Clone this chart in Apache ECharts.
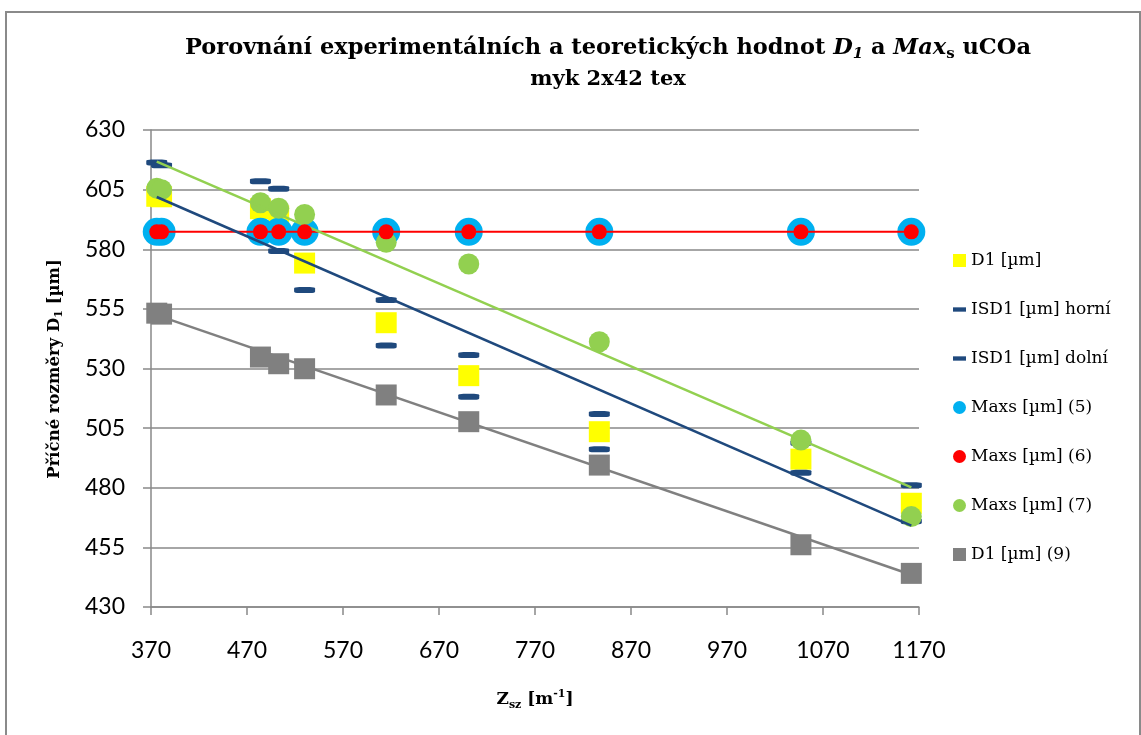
<!DOCTYPE html>
<html>
<head>
<meta charset="utf-8">
<script src="https://cdn.jsdelivr.net/npm/echarts@6/dist/echarts.min.js"></script>
<style>html,body{margin:0;padding:0;background:#fff;}#c{width:1141px;height:735px;}</style>
</head>
<body>
<div id="c"></div>
<script>
// ---- data ----
const xVals      = [376, 381, 484, 503, 530, 615, 701, 837, 1047, 1162];
const d1         = [602.2, 602.0, 597.0, 594.0, 574.2, 549.2, 527.0, 503.5, 492.0, 473.5];
const isdUpper   = [616.4, 615.2, 608.5, 605.4, 585.5, 558.7, 535.7, 510.9, 498.8, 481.0];
const isdLower   = [588.0, 588.5, 585.5, 579.3, 562.9, 539.6, 518.2, 496.1, 486.3, 466.0];
const maxs5      = [587.3, 587.3, 587.3, 587.3, 587.3, 587.3, 587.3, 587.3, 587.3, 587.3];
const maxs6      = [587.3, 587.3, 587.3, 587.3, 587.3, 587.3, 587.3, 587.3, 587.3, 587.3];
const maxs7      = [605.6, 605.0, 599.5, 597.2, 594.6, 582.9, 573.8, 541.2, 500.0, 467.9];
const d1Theo     = [553.2, 552.8, 534.8, 532.0, 529.9, 518.9, 507.7, 489.5, 456.1, 444.1];
// trendline end points
const trendX        = [376, 1162];
const trendMaxs7    = [616.7, 480.2];
const trendD1       = [601.9, 464.1];
const trendD1Theo   = [552.4, 443.5];
// axis ticks
const xTicks = [370, 470, 570, 670, 770, 870, 970, 1070, 1170];
const yTicks = [430, 455, 480, 505, 530, 555, 580, 605, 630];
const seriesNames = ['D1 [µm]', 'ISD1 [µm] horní', 'ISD1 [µm] dolní', 'Maxs [µm] (5)', 'Maxs [µm] (6)', 'Maxs [µm] (7)', 'D1 [µm] (9)'];

const pairs = (xs, ys) => xs.map((x, i) => [x, ys[i]]);
const GRID = '#898989';
const SERIF = 'DejaVu Serif';

const chart = echarts.init(document.getElementById('c'));
chart.setOption({
  animation: false,
  backgroundColor: '#fff',
  title: [{
    left: 603, top: 30, textAlign: 'center',
    text: '{b|Porovnání experimentálních a teoretických hodnot }{bi|D}{bis|1}{b| a }{bi|Max}{bs|s}{b| uCOa}',
    textStyle: {
      rich: {
        b: {fontFamily: SERIF, fontWeight: 'bold', fontSize: 22.5, lineHeight: 27, color: '#000'},
        bi: {fontFamily: SERIF, fontWeight: 'bold', fontStyle: 'italic', fontSize: 22.5, lineHeight: 27, color: '#000'},
        bis: {fontFamily: SERIF, fontWeight: 'bold', fontStyle: 'italic', fontSize: 15, lineHeight: 15, verticalAlign: 'bottom', color: '#000'},
        bs: {fontFamily: SERIF, fontWeight: 'bold', fontSize: 15, lineHeight: 15, verticalAlign: 'bottom', color: '#000'}
      }
    }
  }, {
    left: 603, top: 62, textAlign: 'center',
    text: 'myk 2x42 tex',
    textStyle: {fontFamily: SERIF, fontWeight: 'bold', fontSize: 21, lineHeight: 26, color: '#000'}
  }],
  graphic: [
    {type: 'rect', silent: true, z: -1, shape: {x: 6, y: 12, width: 1134, height: 800},
     style: {fill: 'none', stroke: '#8a8a8a', lineWidth: 2}},
    {type: 'text', silent: true, x: 55, y: 369, rotation: Math.PI / 2,
     style: {
       text: '{b|Příčné rozměry D}{s|1}{b| [µm]}', align: 'center', verticalAlign: 'middle',
       rich: {
         b: {fontFamily: SERIF, fontWeight: 'bold', fontSize: 16.5, lineHeight: 20, fill: '#000'},
         s: {fontFamily: SERIF, fontWeight: 'bold', fontSize: 11, lineHeight: 11, verticalAlign: 'bottom', fill: '#000'}
       }
     }},
    {type: 'text', silent: true, x: 535, y: 700,
     style: {
       text: '{b|Z}{s|sz}{b| [m}{p|-1}{b|]}', align: 'center', verticalAlign: 'middle',
       rich: {
         b: {fontFamily: SERIF, fontWeight: 'bold', fontSize: 17, lineHeight: 22, fill: '#000'},
         s: {fontFamily: SERIF, fontWeight: 'bold', fontSize: 11, lineHeight: 11, verticalAlign: 'bottom', fill: '#000'},
         p: {fontFamily: SERIF, fontWeight: 'bold', fontSize: 11, lineHeight: 11, verticalAlign: 'top', fill: '#000'}
       }
     }}
  ],
  legend: {
    orient: 'vertical', left: 948, top: 247,
    itemWidth: 13, itemHeight: 13, itemGap: 32,
    textStyle: {fontFamily: SERIF, fontSize: 17, lineHeight: 16, color: '#000'},
    data: [
      {name: seriesNames[0], icon: 'rect'},
      {name: seriesNames[1], icon: 'path://M0,0L12,0L12,4L0,4Z'},
      {name: seriesNames[2], icon: 'path://M0,0L12,0L12,4L0,4Z'},
      {name: seriesNames[3], icon: 'circle'},
      {name: seriesNames[4], icon: 'circle'},
      {name: seriesNames[5], icon: 'circle'},
      {name: seriesNames[6], icon: 'rect'}
    ]
  },
  grid: {left: 151, right: 222, top: 130, bottom: 128, containLabel: false},
  xAxis: {
    type: 'value', min: 370, max: 1170,
    axisLine: {show: true, lineStyle: {color: GRID, width: 1.5}},
    axisTick: {show: true, length: 8, customValues: xTicks, lineStyle: {color: GRID, width: 1.5}},
    axisLabel: {customValues: xTicks, formatter: v => String(v), margin: 32, fontFamily: 'Lato', fontSize: 23, color: '#000', showMinLabel: true, showMaxLabel: true},
    splitLine: {show: false}
  },
  yAxis: {
    type: 'value', min: 430, max: 630,
    axisLine: {show: true, lineStyle: {color: GRID, width: 1.5}},
    axisTick: {show: true, length: 8, customValues: yTicks, lineStyle: {color: GRID, width: 1.5}},
    axisLabel: {customValues: yTicks, formatter: v => String(v), margin: 26, fontFamily: 'Lato', fontSize: 23, color: '#000', showMinLabel: true, showMaxLabel: true},
    splitLine: {show: false}
  },
  series: [
    {name: seriesNames[0], type: 'scatter', symbol: 'rect', symbolSize: 21, itemStyle: {color: '#FFFF00', opacity: 1},
     data: pairs(xVals, d1),
     markLine: {silent: true, z: 1, symbol: 'none', label: {show: false},
       lineStyle: {color: GRID, width: 1.5, type: 'solid'},
       data: yTicks.map(v => ({yAxis: v}))}},
    {name: seriesNames[1], type: 'scatter', symbol: 'roundRect', symbolSize: [21, 6], itemStyle: {color: '#1F497D', opacity: 1},
     data: pairs(xVals, isdUpper)},
    {name: seriesNames[2], type: 'scatter', symbol: 'roundRect', symbolSize: [21, 6], itemStyle: {color: '#1F497D', opacity: 1},
     data: pairs(xVals, isdLower)},
    {name: seriesNames[3], type: 'scatter', symbol: 'circle', symbolSize: 28, itemStyle: {color: '#00B0F0', opacity: 1},
     data: pairs(xVals, maxs5)},
    {name: seriesNames[4], type: 'line', symbol: 'circle', symbolSize: 15, showSymbol: true,
     itemStyle: {color: '#FF0000', opacity: 1}, lineStyle: {color: '#FF0000', width: 2},
     data: pairs(xVals, maxs6)},
    {name: seriesNames[5], type: 'scatter', symbol: 'circle', symbolSize: 21, itemStyle: {color: '#92D050', opacity: 1},
     data: pairs(xVals, maxs7)},
    {name: seriesNames[6], type: 'scatter', symbol: 'rect', symbolSize: 21, itemStyle: {color: '#808080', opacity: 1},
     data: pairs(xVals, d1Theo)},
    {name: 'trend Maxs7', type: 'line', symbol: 'none', z: 3, lineStyle: {color: '#92D050', width: 2.5},
     data: pairs(trendX, trendMaxs7)},
    {name: 'trend D1', type: 'line', symbol: 'none', z: 3, lineStyle: {color: '#1F497D', width: 2.5},
     data: pairs(trendX, trendD1)},
    {name: 'trend D1 theo', type: 'line', symbol: 'none', z: 3, lineStyle: {color: '#808080', width: 2.5},
     data: pairs(trendX, trendD1Theo)}
  ]
});
</script>
</body>
</html>
